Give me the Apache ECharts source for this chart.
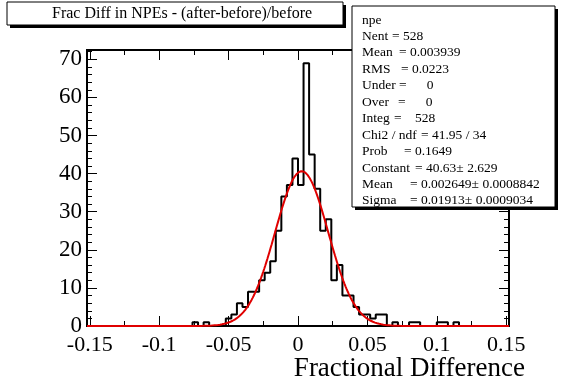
<!DOCTYPE html>
<html>
<head>
<meta charset="utf-8">
<script src="https://cdn.jsdelivr.net/npm/echarts@6/dist/echarts.min.js"></script>
<style>
html,body{margin:0;padding:0;background:#fff;}
#c{width:567px;height:384px;}
</style>
</head>
<body>
<div id="c"></div>
<script>
// ---- data ----
const binLo = -0.152;
const binWidth = 0.004;
const counts = [
  0,0,0,0,0,0,0,0,0,0,
  0,0,0,0,0,0,0,0,0,1,
  0,1,0,0,0,2,3,6,5,9,
  9,12,14,17,25,34,37,44,37,69,
  45,36,25,28,12,16,8,8,5,3,
  3,2,3,3,0,1,0,0,1,1,
  0,0,0,1,1,0,1,0,0,0,
  0,0,0,0,0,0
];
const xMajorTicks = [-0.15,-0.1,-0.05,0,0.05,0.1,0.15];
const xMinorTicks = [-0.125,-0.075,-0.025,0.025,0.075,0.125];
const yMajorTicks = [0,10,20,30,40,50,60,70];
const yMinorTicks = [2,4,6,8,12,14,16,18,22,24,26,28,32,34,36,38,42,44,46,48,52,54,56,58,62,64,66,68,72];
const yMax = 72.45;
// fit parameters (from the stats box)
const fitConstant = 40.63;
const fitMean = 0.002649;
const fitSigma = 0.01913;
const titleText = 'Frac Diff in NPEs - (after-before)/before';
const xTitle = 'Fractional Difference';
const statsLines = [
  ['npe', '', 0],
  ['Nent', '= 528', 392],
  ['Mean', '= 0.003939', 399],
  ['RMS', '= 0.0223', 401],
  ['Under', '=      0', 399],
  ['Over', '=      0', 398],
  ['Integ', '=    528', 394],
  ['Chi2 / ndf', '= 41.95 / 34', 421],
  ['Prob', '= 0.1649', 404],
  ['Constant', '= 40.63\u00b1 2.629', 415],
  ['Mean', '= 0.002649\u00b1 0.0008842', 410],
  ['Sigma', '= 0.01913\u00b1 0.0009034', 410]
];

// ---- build ----
const nBins = counts.length;
const binHi = binLo + nBins * binWidth;
const histData = [];
for (let k = 0; k < nBins; k++) histData.push([binLo + k * binWidth, counts[k]]);
histData.push([binHi, counts[nBins - 1]]);

const fitData = [];
const nPts = 400;
for (let i = 0; i <= nPts; i++) {
  const x = binLo + (binHi - binLo) * i / nPts;
  const z = (x - fitMean) / fitSigma;
  fitData.push([x, fitConstant * Math.exp(-0.5 * z * z)]);
}

const serif = 'Liberation Serif, Times New Roman, serif';
const fmt = v => String(+(+v).toFixed(3));

function xAx(pos, ticks, len, labels) {
  return {
    type: 'value', position: pos, min: binLo, max: binHi,
    axisLine: {show: false, onZero: false}, splitLine: {show: false},
    axisTick: {show: true, inside: true, length: len, customValues: ticks, lineStyle: {color: '#000', width: 1}},
    axisLabel: labels ? {show: true, customValues: ticks, formatter: fmt, margin: 8, color: '#000', fontFamily: serif, fontSize: 22} : {show: false}
  };
}
function yAx(pos, ticks, len, labels) {
  return {
    type: 'value', position: pos, min: 0, max: yMax,
    axisLine: {show: false, onZero: false}, splitLine: {show: false},
    axisTick: {show: true, inside: true, length: len, customValues: ticks, lineStyle: {color: '#000', width: 1}},
    axisLabel: labels ? {show: true, customValues: ticks, margin: 5, color: '#000', fontFamily: serif, fontSize: 23} : {show: false}
  };
}

const statsX = 352, statsY = 6, statsW = 203, statsH = 201;
const graphics = [
  {type: 'rect', z: 100, shape: {x: 10, y: 5, width: 336, height: 23}, style: {fill: '#000'}},
  {type: 'rect', z: 101, shape: {x: 7, y: 2, width: 336, height: 23}, style: {fill: '#fff', stroke: '#000', lineWidth: 1}},
  {type: 'text', z: 102, x: 52, y: 14, style: {text: titleText, fill: '#000', font: '16px ' + serif, textVerticalAlign: 'middle'}},
  {type: 'rect', z: 100, shape: {x: statsX + 3, y: statsY + 3, width: statsW, height: statsH}, style: {fill: '#000'}},
  {type: 'rect', z: 101, shape: {x: statsX, y: statsY, width: statsW, height: statsH}, style: {fill: '#fff', stroke: '#000', lineWidth: 1}},
  {type: 'text', z: 102, right: 42, top: 355, style: {text: xTitle, fill: '#000', font: '27px ' + serif}}
];
statsLines.forEach((l, i) => {
  const y = 20 + i * 16.45;
  graphics.push({type: 'text', z: 102, x: 362, y: y, style: {text: l[0], fill: '#000', font: '13.5px ' + serif, textVerticalAlign: 'middle'}});
  if (l[1]) graphics.push({type: 'text', z: 102, x: l[2], y: y, style: {text: l[1], fill: '#000', font: '13.5px ' + serif, textVerticalAlign: 'middle'}});
});

const chart = echarts.init(document.getElementById('c'), null, {renderer: 'canvas'});
chart.setOption({
  animation: false,
  backgroundColor: '#fff',
  grid: {left: 87, right: 58, top: 50, bottom: 58, show: true, borderColor: '#000', borderWidth: 2, backgroundColor: '#fff'},
  xAxis: [
    xAx('bottom', xMajorTicks, 10, true),
    xAx('bottom', xMinorTicks, 5, false),
    xAx('top', xMajorTicks, 10, false),
    xAx('top', xMinorTicks, 5, false)
  ],
  yAxis: [
    yAx('left', yMajorTicks, 10, true),
    yAx('left', yMinorTicks, 5, false),
    yAx('right', yMajorTicks, 10, false),
    yAx('right', yMinorTicks, 5, false)
  ],
  series: [
    {type: 'line', name: 'npe', xAxisIndex: 0, yAxisIndex: 0, data: histData, step: 'end', symbol: 'none',
     lineStyle: {color: '#000', width: 2}, z: 3},
    {type: 'line', name: 'gaus', xAxisIndex: 0, yAxisIndex: 0, data: fitData, symbol: 'none', smooth: false,
     lineStyle: {color: '#e00000', width: 2}, z: 4}
  ],
  graphic: graphics
});
</script>
</body>
</html>
